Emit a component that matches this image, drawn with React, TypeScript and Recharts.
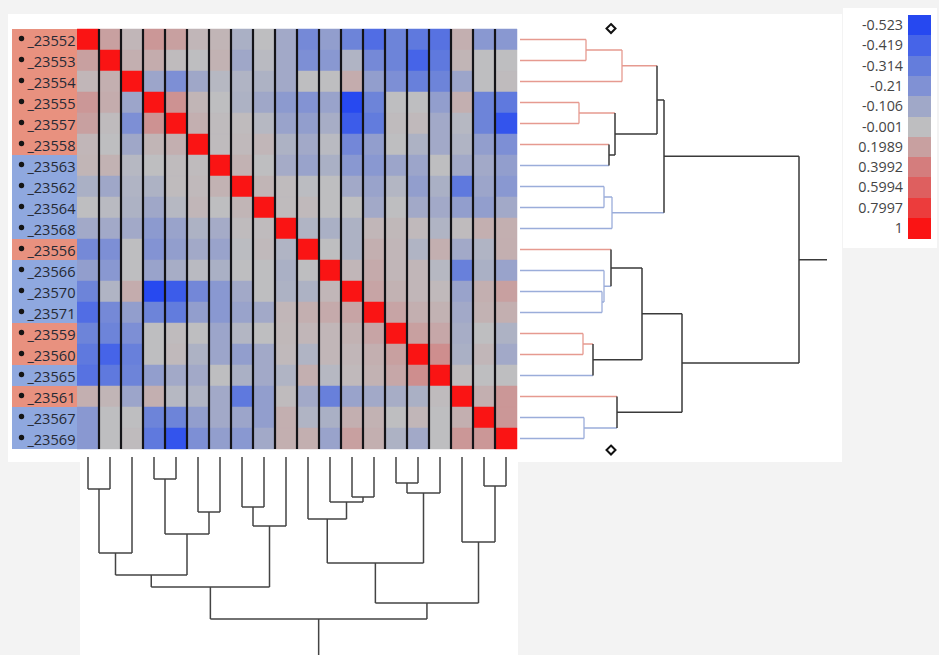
import React from "react";
import { ComposedChart, XAxis, YAxis, ReferenceArea, ReferenceLine, Line, Scatter } from "recharts";

// ---------- data ----------
const rowLabels = ["_23552","_23553","_23554","_23555","_23557","_23558","_23563","_23562","_23564","_23568","_23556","_23566","_23570","_23571","_23559","_23560","_23565","_23561","_23567","_23569"];
const rowGroups = ["r","r","r","r","r","r","b","b","b","b","r","b","b","b","r","r","b","r","b","b"];

const c23552 = [1, 0.2, 0.05, 0.25, 0.2, 0.05, 0.06, -0.07, 0, -0.1, -0.25, -0.15, -0.28, -0.38, -0.28, -0.33, -0.36, 0.1, -0.18, -0.18];
const c23553 = [0.2, 1, 0.1, 0.12, 0.02, 0, 0.08, -0.11, -0.02, -0.1, -0.22, -0.18, -0.05, -0.25, -0.28, -0.42, -0.33, 0.06, 0, 0];
const c23554 = [0.05, 0.1, 1, -0.12, -0.22, -0.11, -0.03, -0.05, -0.06, -0.1, 0, 0, 0.12, -0.15, -0.22, -0.3, -0.28, -0.12, 0, 0.02];
const c23555 = [0.25, 0.12, -0.12, 1, 0.28, 0.06, 0, -0.06, -0.11, -0.17, -0.2, -0.13, -0.52, -0.28, 0, 0, -0.15, 0.1, -0.28, -0.33];
const c23557 = [0.2, 0.02, -0.22, 0.28, 1, 0.1, 0.02, 0.02, -0.03, -0.13, -0.15, -0.08, -0.45, -0.32, 0.02, 0.03, -0.1, -0.03, -0.28, -0.48];
const c23558 = [0.05, 0, -0.11, 0.06, 0.1, 1, 0.02, 0.03, 0.05, -0.06, -0.1, -0.02, -0.26, -0.15, 0, -0.06, -0.1, -0.05, -0.15, -0.22];
const c23563 = [0.06, 0.08, -0.03, 0, 0.02, 0.02, 1, 0.08, 0, -0.09, -0.13, -0.07, -0.18, -0.18, -0.12, -0.12, 0, -0.1, -0.1, -0.15];
const c23562 = [-0.07, -0.11, -0.05, -0.06, 0.02, 0.03, 0.08, 1, 0.06, 0.02, -0.01, 0, -0.1, -0.13, -0.04, -0.15, -0.07, -0.33, -0.12, -0.18];
const c23564 = [0, -0.02, -0.06, -0.11, -0.03, 0.05, 0, 0.06, 1, 0.02, 0.03, 0, 0, -0.1, 0, -0.1, -0.1, -0.15, -0.15, -0.1];
const c23568 = [-0.1, -0.1, -0.1, -0.17, -0.13, -0.06, -0.09, 0.02, 0.02, 1, -0.05, -0.07, -0.06, 0.05, 0.04, 0.03, -0.05, 0.02, 0.1, 0.1];
const c23556 = [-0.25, -0.22, 0, -0.2, -0.15, -0.1, -0.13, -0.01, 0.03, -0.05, 1, 0, -0.06, 0.1, 0.05, -0.05, 0.1, -0.1, -0.05, 0.1];
const c23566 = [-0.15, -0.18, 0, -0.13, -0.08, -0.02, -0.07, 0, 0, -0.07, 0, 1, 0.05, 0.13, 0.05, 0.05, -0.03, -0.3, -0.07, -0.13];
const c23570 = [-0.28, -0.05, 0.12, -0.52, -0.45, -0.26, -0.18, -0.1, 0, -0.06, -0.06, 0.05, 1, 0.17, 0.08, 0.05, 0.03, -0.13, 0.1, 0.2];
const c23571 = [-0.38, -0.25, -0.15, -0.28, -0.32, -0.15, -0.18, -0.13, -0.1, 0.05, 0.1, 0.13, 0.17, 1, 0.17, 0.1, 0.08, -0.1, 0.08, 0.1];
const c23559 = [-0.28, -0.28, -0.22, 0, 0.02, 0, -0.12, -0.04, 0, 0.04, 0.05, 0.05, 0.08, 0.17, 1, 0.2, 0.15, -0.08, 0, -0.06];
const c23560 = [-0.33, -0.42, -0.3, 0, 0.03, -0.06, -0.12, -0.15, -0.1, 0.03, -0.05, 0.05, 0.05, 0.1, 0.2, 1, 0.3, -0.07, 0.05, -0.1];
const c23565 = [-0.36, -0.33, -0.28, -0.15, -0.1, -0.1, 0, -0.07, -0.1, -0.05, 0.1, -0.03, 0.03, 0.08, 0.15, 0.3, 1, 0.02, 0, 0];
const c23561 = [0.1, 0.06, -0.12, 0.1, -0.03, -0.05, -0.1, -0.33, -0.15, 0.02, -0.1, -0.3, -0.13, -0.1, -0.08, -0.07, 0.02, 1, 0.1, 0.25];
const c23567 = [-0.18, 0, 0, -0.28, -0.28, -0.15, -0.1, -0.12, -0.15, 0.1, -0.05, -0.07, 0.1, 0.08, 0, 0.05, 0, 0.1, 1, 0.25];
const c23569 = [-0.18, 0, 0.02, -0.33, -0.48, -0.22, -0.15, -0.18, -0.1, 0.1, 0.1, -0.13, 0.2, 0.1, -0.06, -0.1, 0, 0.25, 0.25, 1];

const corrMatrix = [c23552, c23553, c23554, c23555, c23557, c23558, c23563, c23562, c23564, c23568, c23556, c23566, c23570, c23571, c23559, c23560, c23565, c23561, c23567, c23569];

const legendValues = [-0.523, -0.419, -0.314, -0.21, -0.106, -0.001, 0.1989, 0.3992, 0.5994, 0.7997, 1];
const legendLabels = ["-0.523", "-0.419", "-0.314", "-0.21", "-0.106", "-0.001", "0.1989", "0.3992", "0.5994", "0.7997", "1"];
const legendColors = ["#2648f0", "#4664e8", "#647ddc", "#8091d4", "#a0a8c8", "#bebec0", "#c8a0a0", "#d47d7d", "#de5f5f", "#ec3c3c", "#fa1414"];

// merges: [childA, childB, height]; leaves are 0..19, merge k creates node 20+k
const rowMerges: [number, number, number][] = [
  [0, 1, 0.66], [20, 2, 1.02], [3, 4, 0.59], [5, 6, 0.89], [22, 23, 0.95], [21, 24, 1.37],
  [7, 8, 0.84], [26, 9, 0.92], [25, 27, 1.44], [12, 13, 0.82], [11, 29, 0.84], [10, 30, 0.91],
  [14, 15, 0.63], [32, 16, 0.73], [31, 33, 1.22], [18, 19, 0.64], [17, 35, 0.97], [34, 36, 1.62],
  [28, 37, 2.79],
];
const rowRootStub = 3.07;

const colMerges: [number, number, number][] = [
  [0, 1, 0.32], [20, 2, 0.96], [3, 4, 0.22], [5, 6, 0.55], [22, 23, 0.77], [21, 24, 1.18],
  [7, 8, 0.5], [26, 9, 0.69], [25, 27, 1.3], [12, 13, 0.4], [11, 29, 0.45], [10, 30, 0.62],
  [14, 15, 0.26], [32, 16, 0.36], [31, 33, 1.06], [18, 19, 0.29], [17, 35, 0.85], [34, 36, 1.46],
  [28, 37, 1.62],
];
const colRootStub = 1.98;

const handleMarks = [{ h: 0.91, p: -0.02 }, { h: 0.91, p: 20.05 }];

// ---------- helpers ----------
const FONT = "'Segoe UI', 'Open Sans', 'Noto Sans', sans-serif";
const groupColor: Record<string, string> = { r: "#e69a90", b: "#9badda", m: "#3a3a3a" };

function hexRgb(h: string) {
  return [parseInt(h.slice(1, 3), 16), parseInt(h.slice(3, 5), 16), parseInt(h.slice(5, 7), 16)];
}
function colorFor(v: number) {
  if (v <= legendValues[0]) return legendColors[0];
  for (let i = 0; i < legendValues.length - 1; i++) {
    if (v <= legendValues[i + 1]) {
      const t = (v - legendValues[i]) / (legendValues[i + 1] - legendValues[i]);
      const a = hexRgb(legendColors[i]);
      const b = hexRgb(legendColors[i + 1]);
      const c = a.map((x, k) => Math.round(x + (b[k] - x) * t));
      return `rgb(${c[0]},${c[1]},${c[2]})`;
    }
  }
  return legendColors[legendColors.length - 1];
}

type Pt = { h: number | null; p: number | null };
function buildSegments(merges: [number, number, number][], groups: string[], stub: number) {
  const n = groups.length;
  const pos: number[] = [];
  const ht: number[] = [];
  const grp: string[] = [];
  for (let i = 0; i < n; i++) { pos[i] = i + 0.5; ht[i] = 0; grp[i] = groups[i]; }
  const segs: { g: string; pts: Pt[] }[] = [];
  merges.forEach(([a, b, h], k) => {
    const id = n + k;
    pos[id] = (pos[a] + pos[b]) / 2;
    ht[id] = h;
    grp[id] = grp[a] === grp[b] ? grp[a] : "m";
    segs.push({ g: grp[a], pts: [{ h: ht[a], p: pos[a] }, { h, p: pos[a] }] });
    segs.push({ g: grp[b], pts: [{ h: ht[b], p: pos[b] }, { h, p: pos[b] }] });
    segs.push({ g: grp[id], pts: [{ h, p: pos[a] }, { h, p: pos[b] }] });
  });
  const root = n + merges.length - 1;
  segs.push({ g: "m", pts: [{ h: ht[root], p: pos[root] }, { h: stub, p: pos[root] }] });
  return segs;
}
function lineData(segs: { g: string; pts: Pt[] }[], g: string | null) {
  const out: Pt[] = [];
  segs.filter((s) => g === null || s.g === g).forEach((s) => {
    out.push(...s.pts);
    out.push({ h: null, p: null });
  });
  return out;
}

const rowSegs = buildSegments(rowMerges, rowGroups, rowRootStub);
const colSegs = buildSegments(colMerges, rowGroups, colRootStub);

const cells = corrMatrix.flatMap((row, i) => row.map((v, j) => ({ i, j, v })));
const rowTicks = rowLabels.map((_, i) => i + 0.5);
const separators = rowLabels.slice(1).map((_, k) => k + 1);

const RowTick = (props: any) => {
  const { y, payload } = props;
  const idx = Math.floor(payload.value);
  const bg = rowGroups[idx] === "r" ? "#e8917f" : "#8fa8df";
  return (
    <g>
      <rect x={12} y={y - 10.5} width={65} height={21} fill={bg} />
      <circle cx={21.5} cy={y - 1} r={2.7} fill="#151515" />
      <text x={75.5} y={y} textAnchor="end" dominantBaseline="central" fontSize={14.6} fontFamily={FONT} fill="#252a35">
        {rowLabels[idx]}
      </text>
    </g>
  );
};

const Diamond = (props: any) => {
  const { cx, cy } = props;
  if (cx == null || cy == null) return null;
  const r = 4.5;
  return (
    <path d={`M${cx},${cy - r}L${cx + r},${cy}L${cx},${cy + r}L${cx - r},${cy}Z`} fill="#fff" stroke="#111" strokeWidth={2} />
  );
};

export default function App() {
  return (
    <div style={{ position: "absolute", left: 0, top: 0, width: 939, height: 655, background: "#f3f3f3", overflow: "hidden", fontFamily: FONT }}>
      <div style={{ position: "absolute", left: 8, top: 14, width: 834, height: 448, background: "#fff" }} />
      <div style={{ position: "absolute", left: 80, top: 455, width: 438, height: 200, background: "#fff" }} />
      <div style={{ position: "absolute", left: 843, top: 8, width: 94, height: 240, background: "#fff" }} />

      {/* heatmap */}
      <div style={{ position: "absolute", left: 0, top: 0 }}>
        <ComposedChart width={520} height={460} margin={{ top: 29, right: 3, bottom: 11, left: 12 }}>
          <XAxis type="number" dataKey="x" domain={[0, 20]} hide allowDataOverflow />
          <YAxis
            type="number"
            domain={[0, 20]}
            reversed
            allowDataOverflow
            width={65}
            ticks={rowTicks}
            interval={0}
            tickLine={false}
            axisLine={false}
            tick={(p: any) => <RowTick {...p} />}
          />
          {cells.map((c) => {
            const col = colorFor(c.v);
            return (
              <ReferenceArea
                key={`c${c.i}-${c.j}`}
                x1={c.j}
                x2={c.j + 1}
                y1={c.i}
                y2={c.i + 1}
                fill={col}
                fillOpacity={1}
                stroke={col}
                strokeWidth={0.5}
                ifOverflow="visible"
              />
            );
          })}
          {separators.map((k) => (
            <ReferenceLine key={`s${k}`} x={k} stroke="#141418" strokeWidth={2.2} ifOverflow="visible" />
          ))}
        </ComposedChart>
      </div>

      {/* row dendrogram */}
      <div style={{ position: "absolute", left: 515, top: 0 }}>
        <ComposedChart width={330} height={480} margin={{ top: 8, right: 18, bottom: 10, left: 5 }}>
          <XAxis type="number" dataKey="h" domain={[0, rowRootStub]} hide allowDataOverflow />
          <YAxis type="number" dataKey="p" domain={[-1, 21]} reversed hide allowDataOverflow />
          {["r", "b", "m"].map((g) => (
            <Line
              key={g}
              data={lineData(rowSegs, g)}
              dataKey="p"
              type="linear"
              stroke={groupColor[g]}
              strokeWidth={g === "m" ? 1.5 : 1.3}
              dot={false}
              activeDot={false}
              connectNulls={false}
              isAnimationActive={false}
            />
          ))}
          <Scatter data={handleMarks} dataKey="p" shape={(p: any) => <Diamond {...p} />} isAnimationActive={false} />
        </ComposedChart>
      </div>

      {/* column dendrogram */}
      <div style={{ position: "absolute", left: 60, top: 440 }}>
        <ComposedChart width={470} height={215} margin={{ top: 17, right: 13, bottom: 0, left: 17 }}>
          <XAxis type="number" dataKey="p" domain={[0, 20]} hide allowDataOverflow />
          <YAxis type="number" dataKey="h" domain={[0, colRootStub]} reversed hide allowDataOverflow />
          <Line
            data={lineData(colSegs, null)}
            dataKey="h"
            type="linear"
            stroke="#444"
            strokeWidth={1.5}
            dot={false}
            activeDot={false}
            connectNulls={false}
            isAnimationActive={false}
          />
        </ComposedChart>
      </div>

      {/* legend */}
      {legendLabels.map((lab, i) => (
        <div key={lab}>
          <div style={{ position: "absolute", left: 908, top: 15 + i * 20.3, width: 23, height: 20.6, background: legendColors[i] }} />
          <div
            style={{
              position: "absolute",
              left: 840,
              width: 63,
              top: 15 + i * 20.3,
              height: 20.3,
              lineHeight: "20.3px",
              textAlign: "right",
              fontSize: 14.3,
              color: "#454545",
            }}
          >
            {lab}
          </div>
        </div>
      ))}
    </div>
  );
}
